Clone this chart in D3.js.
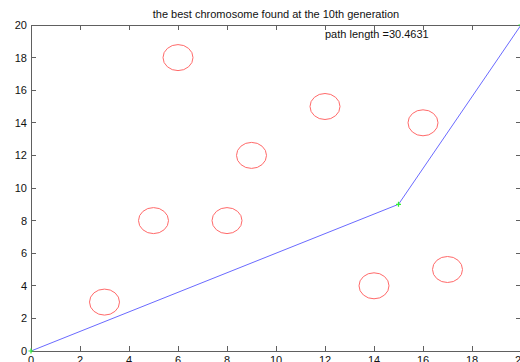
<!DOCTYPE html>
<html><head><meta charset="utf-8">
<script src="https://cdn.jsdelivr.net/npm/d3@7"></script>
<style>html,body{margin:0;padding:0;background:#fff;overflow:hidden}</style>
</head><body>
<svg id="c" width="520" height="362"></svg>
<script>
const cityX = [6, 12, 16, 9, 5, 8, 3, 14, 17];
const cityY = [18, 15, 14, 12, 8, 8, 3, 4, 5];
const pathX = [0, 15, 20];
const pathY = [0, 9, 20];
const xTicks = [0, 2, 4, 6, 8, 10, 12, 14, 16, 18, 20];
const yTicks = [0, 2, 4, 6, 8, 10, 12, 14, 16, 18, 20];
const titleText = "the best chromosome found at the 10th generation";
const noteText = "path length =30.4631";

const svg = d3.select("#c");
const L = 31, R = 521, T = 25, B = 351;
const x = d3.scaleLinear().domain([0, 20]).range([L, R]);
const y = d3.scaleLinear().domain([0, 20]).range([B, T]);
const font = "'Liberation Sans', Arial, Helvetica, sans-serif";
const axisCol = "#606060";

// box
svg.append("rect").attr("x", L).attr("y", T).attr("width", R - L).attr("height", B - T)
  .attr("fill", "none").attr("stroke", axisCol).attr("stroke-width", 1)
  .attr("shape-rendering", "crispEdges");

const tl = 5;
const g = svg.append("g").attr("shape-rendering", "crispEdges").attr("stroke", axisCol);
xTicks.forEach(v => {
  g.append("line").attr("x1", x(v)).attr("x2", x(v)).attr("y1", B).attr("y2", B - tl);
  g.append("line").attr("x1", x(v)).attr("x2", x(v)).attr("y1", T).attr("y2", T + tl);
});
yTicks.forEach(v => {
  g.append("line").attr("x1", L).attr("x2", L + tl).attr("y1", y(v)).attr("y2", y(v));
  g.append("line").attr("x1", R).attr("x2", R - tl).attr("y1", y(v)).attr("y2", y(v));
});

svg.selectAll(".xl").data(xTicks).enter().append("text")
  .attr("x", d => x(d)).attr("y", B + 13).attr("text-anchor", "middle")
  .attr("font-family", font).attr("font-size", 11).attr("fill", "#111").text(d => d);
svg.selectAll(".yl").data(yTicks).enter().append("text")
  .attr("x", L - 4).attr("y", d => y(d) + 4).attr("text-anchor", "end")
  .attr("font-family", font).attr("font-size", 11).attr("fill", "#111").text(d => d);

// cities
svg.selectAll(".city").data(cityX.map((v, i) => [v, cityY[i]])).enter().append("ellipse")
  .attr("cx", d => x(d[0])).attr("cy", d => y(d[1]))
  .attr("rx", 15).attr("ry", 13)
  .attr("fill", "none").attr("stroke", "#ff6a6a").attr("stroke-width", 1);

// path
const line = d3.line().x(d => x(d[0])).y(d => y(d[1]));
const pts = pathX.map((v, i) => [v, pathY[i]]);
svg.append("path").attr("d", line(pts)).attr("fill", "none")
  .attr("stroke", "#6a6aff").attr("stroke-width", 1);

// markers
pts.forEach(p => {
  const px = x(p[0]), py = y(p[1]);
  svg.append("path").attr("d", `M${px - 2.5},${py}H${px + 2.5}M${px},${py - 2.5}V${py + 2.5}`)
    .attr("stroke", "#33ee33").attr("stroke-width", 1.2);
});

svg.append("text").attr("x", (L + R) / 2).attr("y", 18).attr("text-anchor", "middle")
  .attr("font-family", font).attr("font-size", 11).attr("fill", "#111").text(titleText);
svg.append("text").attr("x", x(12)).attr("y", y(19.5) + 5)
  .attr("font-family", font).attr("font-size", 11).attr("fill", "#111").text(noteText);
</script>
</body></html>
